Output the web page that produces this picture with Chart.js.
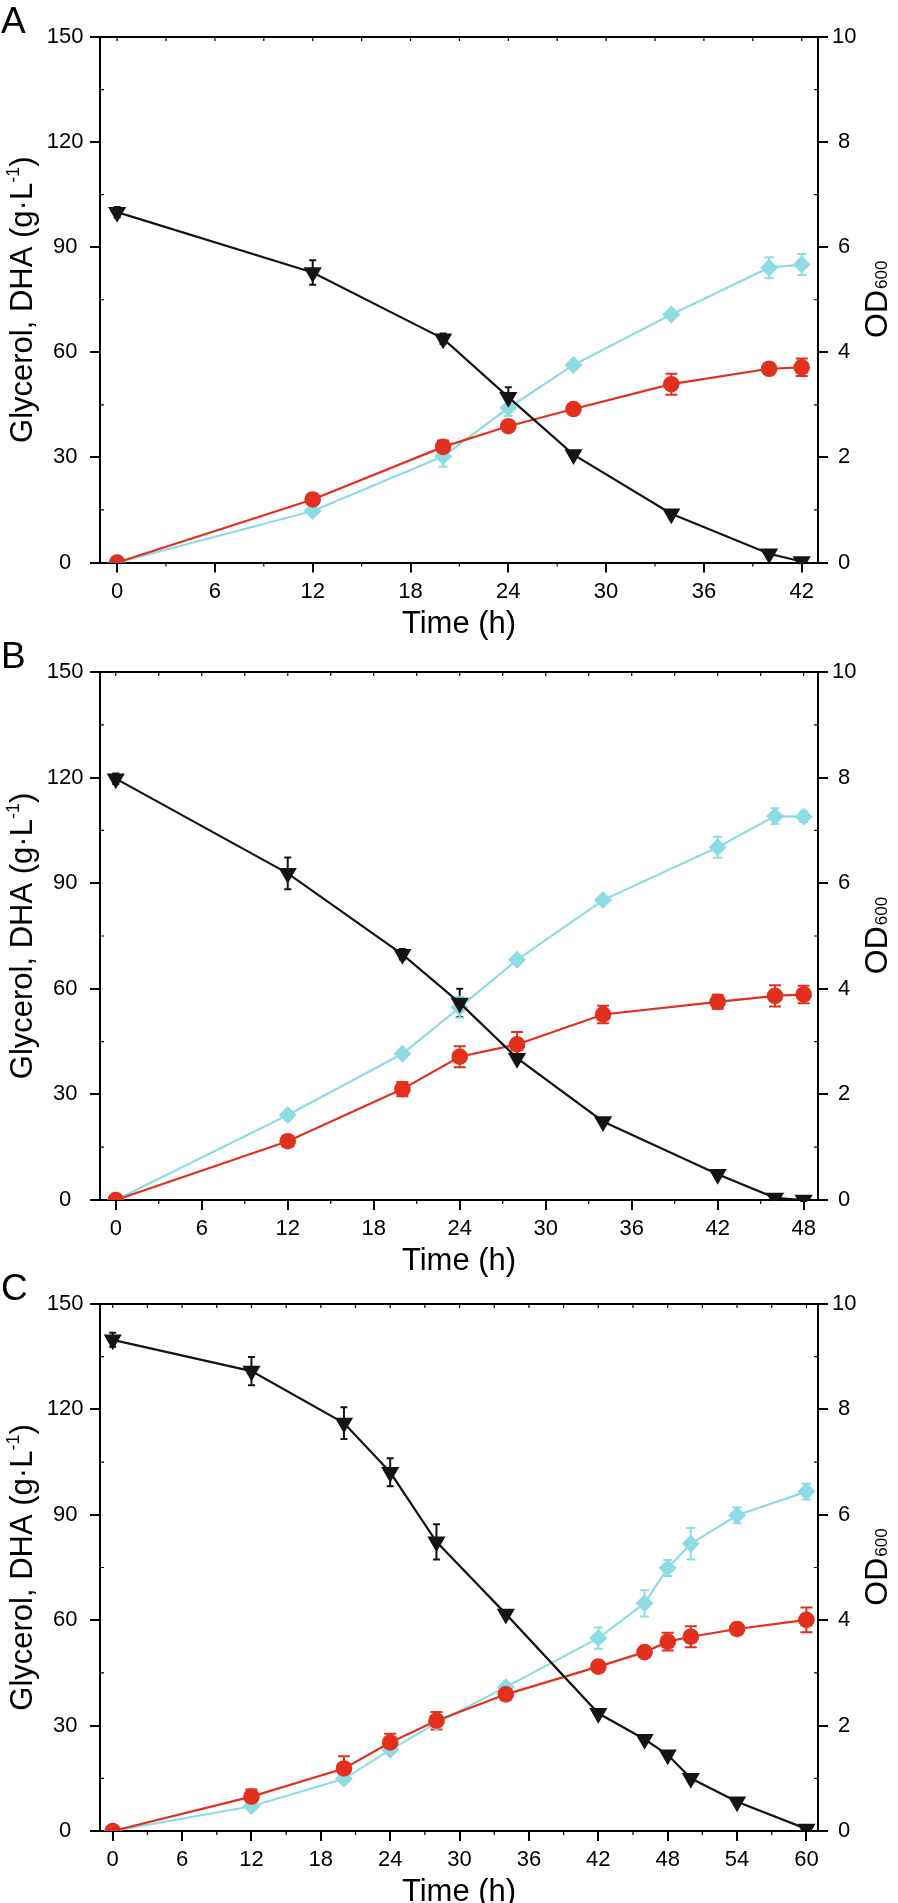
<!DOCTYPE html>
<html>
<head>
    <title>Glycerol, DHA and OD600 time courses</title>
    <style>
        body { margin: 0; background: #fff; }
        .panel { position: absolute; left: 0; width: 898px; }
    </style>
    <script src="https://cdn.jsdelivr.net/npm/chart.js"></script>
</head>
<body>
    <div class="panel" style="top:0px;height:660px"><canvas id="chartA"></canvas></div>
    <div class="panel" style="top:610px;height:670px"><canvas id="chartB"></canvas></div>
    <div class="panel" style="top:1250px;height:653px"><canvas id="chartC"></canvas></div>

    <script>
        // ---- data ----
        // panel A
        const timeA = [0, 12, 20, 24, 28, 34, 40, 42];
        const glycerolA = [100, 82.8, 63.9, 47.2, 30.8, 13.9, 2.5, 0.3];
        const glycerolErrA = [1.5, 3.5, 1.5, 2.8, 0.8, 0.8, 0.8, 0.5];
        const dhaA = [0, 18.0, 33.0, 38.9, 43.8, 50.9, 55.3, 55.7];
        const dhaErrA = [0, 1.2, 1.8, 1.2, 0.8, 3.0, 1.5, 2.5];
        const odA = [0, 0.98, 2.02, 2.94, 3.76, 4.72, 5.61, 5.67];
        const odErrA = [0, 0.05, 0.2, 0.15, 0.05, 0.05, 0.2, 0.2];
        const xTicksA = [0, 6, 12, 18, 24, 30, 36, 42];

        // panel B
        const timeB = [0, 12, 20, 24, 28, 34, 42, 46, 48];
        const glycerolB = [119.7, 92.8, 69.8, 56.0, 40.3, 22.3, 7.3, 0.6, 0];
        const glycerolErrB = [1.5, 4.5, 1.5, 4.0, 1.0, 0.8, 0.8, 0.5, 0.3];
        const dhaB = [0, 16.7, 31.5, 40.7, 44.2, 52.7, 56.3, 58.0, 58.4];
        const dhaErrB = [0, 1.5, 2.0, 3.0, 3.5, 2.5, 2.0, 3.0, 2.5];
        const odB = [0, 1.61, 2.77, 3.65, 4.55, 5.68, 6.68, 7.27, 7.26];
        const odErrB = [0, 0.05, 0.05, 0.2, 0.05, 0.05, 0.2, 0.15, 0.1];
        const xTicksB = [0, 6, 12, 18, 24, 30, 36, 42, 48];

        // panel C
        const timeC = [0, 12, 20, 24, 28, 34, 42, 46, 48, 50, 54, 60];
        const glycerolC = [139.8, 130.9, 116.1, 102.1, 82.3, 61.8, 33.5, 26.1, 21.7, 15.0, 8.3, 0.6];
        const glycerolErrC = [2, 4, 4.5, 4, 5, 1, 0.8, 1, 1, 1, 0.8, 0.5];
        const dhaC = [0, 9.8, 17.8, 25.2, 31.4, 38.9, 46.8, 50.9, 53.9, 55.3, 57.5, 60.1];
        const dhaErrC = [0, 2, 3.5, 2.5, 2.5, 1, 1, 0.8, 2.5, 3, 1.5, 3.5];
        const odC = [0, 0.47, 0.99, 1.54, 2.05, 2.73, 3.66, 4.32, 4.99, 5.45, 5.99, 6.44];
        const odErrC = [0, 0.03, 0.05, 0.05, 0.05, 0.05, 0.2, 0.25, 0.15, 0.3, 0.15, 0.15];
        const xTicksC = [0, 6, 12, 18, 24, 30, 36, 42, 48, 54, 60];

        // shared axes
        const yTicks = [0, 30, 60, 90, 120, 150];
        const odTicks = [0, 2, 4, 6, 8, 10];

        const RED = '#e1301e';
        const CYAN = '#8edce3';
        const BLACK = '#141414';
        const FONT = "'Liberation Sans', Arial, Helvetica, sans-serif";

        // vertical error bars, drawn under the markers
        const errorBars = {
            id: 'errorBars',
            beforeDatasetsDraw(chart) {
                const ctx = chart.ctx;
                chart.data.datasets.forEach((ds, i) => {
                    if (!ds.errors) return;
                    const xs = chart.scales.x;
                    const ys = chart.scales[ds.yAxisID];
                    ctx.save();
                    ctx.strokeStyle = ds.borderColor;
                    ctx.lineWidth = 2;
                    ds.data.forEach((p, j) => {
                        const e = ds.errors[j];
                        if (!e) return;
                        const x = xs.getPixelForValue(p.x);
                        const y1 = ys.getPixelForValue(p.y + e);
                        const y2 = ys.getPixelForValue(p.y - e);
                        const c = ds.capWidth / 2;
                        ctx.beginPath();
                        ctx.moveTo(x, y1); ctx.lineTo(x, y2);
                        ctx.moveTo(x - c, y1); ctx.lineTo(x + c, y1);
                        ctx.moveTo(x - c, y2); ctx.lineTo(x + c, y2);
                        ctx.stroke();
                    });
                    ctx.restore();
                });
            }
        };

        // top border, minor ticks, panel letter and axis titles
        const frame = {
            id: 'frame',
            afterDraw(chart, args, opts) {
                const { ctx, chartArea: a, scales } = chart;
                ctx.save();
                ctx.strokeStyle = '#000';
                ctx.lineWidth = 2;
                ctx.beginPath();
                ctx.moveTo(a.left - 1, a.top);
                ctx.lineTo(a.right + 1, a.top);
                ctx.stroke();

                // minor ticks halfway between the labelled ones
                ctx.lineWidth = 1.2;
                ctx.beginPath();
                const xt = opts.xTicks;
                const xAll = [];
                for (let i = 0; i < xt.length; i++) {
                    xAll.push(xt[i]);
                    if (i < xt.length - 1) xAll.push((xt[i] + xt[i + 1]) / 2);
                }
                xAll.forEach((v, i) => {
                    const x = scales.x.getPixelForValue(v);
                    ctx.moveTo(x, a.top); ctx.lineTo(x, a.top + 4);
                    if (i % 2 === 1) { ctx.moveTo(x, a.bottom); ctx.lineTo(x, a.bottom + 4); }
                });
                for (let i = 0; i < yTicks.length - 1; i++) {
                    const y = scales.y.getPixelForValue((yTicks[i] + yTicks[i + 1]) / 2);
                    ctx.moveTo(a.left, y); ctx.lineTo(a.left + 4, y);
                    const y2 = scales.y2.getPixelForValue((odTicks[i] + odTicks[i + 1]) / 2);
                    ctx.moveTo(a.right, y2); ctx.lineTo(a.right - 4, y2);
                }
                ctx.stroke();

                ctx.fillStyle = '#000';
                ctx.textBaseline = 'alphabetic';

                // panel letter
                ctx.font = '37px ' + FONT;
                ctx.textAlign = 'left';
                ctx.fillText(opts.letter, 1, a.top - 4);

                // x title
                ctx.font = '31px ' + FONT;
                ctx.textAlign = 'center';
                ctx.fillText('Time (h)', (a.left + a.right) / 2, a.bottom + 70);

                const midY = (a.top + a.bottom) / 2;
                ctx.textAlign = 'left';

                // left title with superscript
                const big = '31px ' + FONT, small = '18px ' + FONT;
                const p1 = 'Glycerol, DHA (g\u00b7L', p2 = '-1', p3 = ')';
                ctx.font = big; const w1 = ctx.measureText(p1).width; const w3 = ctx.measureText(p3).width;
                ctx.font = small; const w2 = ctx.measureText(p2).width;
                const tot = w1 + w2 + w3;
                ctx.save();
                ctx.translate(31.5, midY);
                ctx.rotate(-Math.PI / 2);
                ctx.font = big; ctx.fillText(p1, -tot / 2, 0);
                ctx.font = small; ctx.fillText(p2, -tot / 2 + w1, -13);
                ctx.font = big; ctx.fillText(p3, -tot / 2 + w1 + w2, 0);
                ctx.restore();

                // right title OD600
                const odBig = '32px ' + FONT, odSmall = '17px ' + FONT;
                ctx.font = odBig; const o1 = ctx.measureText('OD').width;
                ctx.font = odSmall; const o2 = ctx.measureText('600').width;
                ctx.save();
                ctx.translate(887, midY);
                ctx.rotate(-Math.PI / 2);
                ctx.font = odBig; ctx.fillText('OD', -(o1 + o2) / 2, 0);
                ctx.font = odSmall; ctx.fillText('600', -(o1 + o2) / 2 + o1 + 1, 0);
                ctx.restore();

                ctx.restore();
            }
        };

        function pairs(times, values) {
            return times.map((t, i) => ({ x: t, y: values[i] }));
        }

        function axisLine() {
            return {
                grid: { display: true, drawOnChartArea: false, drawTicks: true, tickLength: 10, color: '#000', lineWidth: 2 },
                border: { display: true, color: '#000', width: 2 }
            };
        }

        function makeChart(id, letter, times, gly, glyErr, dha, dhaErr, od, odErr, xTicks, xMin, xMax, padTop, xHeight) {
            const tickFont = { family: FONT, size: 22 };
            return new Chart(document.getElementById(id), {
                type: 'line',
                data: {
                    datasets: [
                        {
                            label: 'Glycerol', data: pairs(times, gly), errors: glyErr, capWidth: 7,
                            yAxisID: 'y', borderColor: BLACK, backgroundColor: BLACK, borderWidth: 2.2,
                            pointStyle: 'triangle', pointRotation: 180, pointRadius: 10.5,
                            pointBackgroundColor: BLACK, pointBorderWidth: 0
                        },
                        {
                            label: 'DHA', data: pairs(times, dha), errors: dhaErr, capWidth: 12,
                            yAxisID: 'y', borderColor: RED, backgroundColor: RED, borderWidth: 2.2,
                            pointStyle: 'circle', pointRadius: 8.3,
                            pointBackgroundColor: RED, pointBorderWidth: 0
                        },
                        {
                            label: 'OD600', data: pairs(times, od), errors: odErr, capWidth: 9,
                            yAxisID: 'y2', borderColor: CYAN, backgroundColor: CYAN, borderWidth: 2.2,
                            pointStyle: 'rectRot', pointRadius: 9,
                            pointBackgroundColor: CYAN, pointBorderWidth: 0
                        }
                    ]
                },
                options: {
                    responsive: true,
                    maintainAspectRatio: false,
                    animation: false,
                    layout: { padding: { top: padTop, left: 0, right: 0, bottom: 0 } },
                    plugins: {
                        legend: { display: false },
                        tooltip: { enabled: false },
                        frame: { letter: letter, xTicks: xTicks }
                    },
                    scales: {
                        x: Object.assign(axisLine(), {
                            type: 'linear', position: 'bottom', min: xMin, max: xMax,
                            afterBuildTicks: s => { s.ticks = xTicks.map(v => ({ value: v })); },
                            afterFit: s => { s.height = xHeight; },
                            ticks: { font: tickFont, color: '#000', padding: 6, maxRotation: 0, autoSkip: false }
                        }),
                        y: Object.assign(axisLine(), {
                            type: 'linear', position: 'left', min: 0, max: 150,
                            afterBuildTicks: s => { s.ticks = yTicks.map(v => ({ value: v })); },
                            afterFit: s => { s.width = 100; },
                            ticks: { font: tickFont, color: '#000', padding: 6.5, crossAlign: 'center' }
                        }),
                        y2: Object.assign(axisLine(), {
                            type: 'linear', position: 'right', min: 0, max: 10,
                            afterBuildTicks: s => { s.ticks = odTicks.map(v => ({ value: v })); },
                            afterFit: s => { s.width = 80; },
                            ticks: { font: tickFont, color: '#000', padding: 4, crossAlign: 'center' }
                        })
                    }
                },
                plugins: [errorBars, frame]
            });
        }

        makeChart('chartA', 'A', timeA, glycerolA, glycerolErrA, dhaA, dhaErrA, odA, odErrA, xTicksA, -1.05, 43, 37, 97.5);
        makeChart('chartB', 'B', timeB, glycerolB, glycerolErrB, dhaB, dhaErrB, odB, odErrB, xTicksB, -1.1, 49, 62, 80);
        makeChart('chartC', 'C', timeC, glycerolC, glycerolErrC, dhaC, dhaErrC, odC, odErrC, xTicksC, -1.1, 61, 54, 72);
    </script>
</body>
</html>
